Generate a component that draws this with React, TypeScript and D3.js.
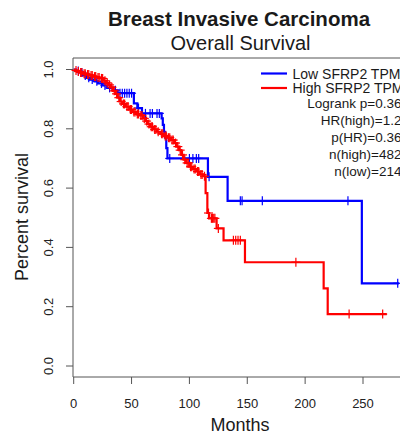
import React from "react";
import * as d3 from "d3";

const xTicks = [0, 50, 100, 150, 200, 250];
const yTicks = [0, 0.2, 0.4, 0.6, 0.8, 1.0];

// Low SFRP2 TPM (blue): [months, survival after drop]
const lowSteps: [number, number][] = [
  [0, 1], [2, 0.995], [5, 0.99], [8, 0.98], [11, 0.972], [14, 0.966], [18, 0.96], [21, 0.953],
  [25, 0.946], [29, 0.938], [34, 0.93], [38, 0.92], [52, 0.886], [55, 0.87], [59, 0.852],
  [76, 0.835], [77, 0.813], [78, 0.79], [79, 0.77], [80, 0.735], [81, 0.7], [116, 0.638],
  [133, 0.557], [249, 0.279], [281, 0.279],
];
const lowCensor = [4, 7, 10, 13, 16, 20, 24, 27, 31, 36, 40, 42, 44, 46, 48, 50, 56, 62, 66, 68, 72, 74,
  83, 100, 103, 106, 108, 117, 144, 145.5, 163, 237, 280];

// High SFRP2 TPM (red)
const highSteps: [number, number][] = [
  [0, 1], [1, 0.997], [3, 0.993], [5, 0.99], [8, 0.986], [11, 0.983], [14, 0.98], [17, 0.976],
  [20, 0.973], [23, 0.97], [26, 0.962], [28, 0.955], [30, 0.948], [32, 0.94], [34, 0.928],
  [36, 0.918], [38, 0.905], [40, 0.892], [42, 0.884], [45, 0.875], [48, 0.865], [51, 0.857],
  [54, 0.85], [57, 0.845], [60, 0.835], [62, 0.826], [64, 0.816], [66, 0.807], [69, 0.798],
  [72, 0.79], [75, 0.783], [78, 0.776], [81, 0.77], [84, 0.762], [87, 0.752], [89, 0.74],
  [91, 0.728], [93, 0.712], [95, 0.696], [97, 0.685], [100, 0.672], [103, 0.664], [106, 0.656],
  [109, 0.646], [112, 0.64], [114, 0.583], [115.5, 0.516], [117, 0.498], [123.5, 0.464],
  [129.5, 0.424], [148, 0.35], [216, 0.262], [219.5, 0.175], [270.5, 0.175],
];
const highCensor = [2, 4, 6, 7, 9, 10, 12, 13, 15, 16, 18, 19, 21, 22, 24, 25, 27, 29, 31, 33, 35, 37, 39,
  41, 43, 44, 46, 47, 49, 50, 52, 53, 55, 56, 58, 59, 61, 63, 65, 67, 68, 70, 71, 73, 76, 77, 79, 80,
  82, 83, 85, 86, 88, 90, 92, 94, 96, 98, 99, 101, 102, 104, 105, 107, 108, 110, 111, 113, 116.5,
  119, 120, 121, 122, 125, 138, 140, 142, 144, 192, 238, 267];

const legendItems = [
  { label: "Low SFRP2 TPM", color: "#0000FF" },
  { label: "High SFRP2 TPM", color: "#FF0000" },
];
const statLines = ["Logrank p=0.36", "HR(high)=1.2", "p(HR)=0.36", "n(high)=482", "n(low)=214"];

const W = 400;
const H = 435;
const FONT = "Liberation Sans, Arial, sans-serif";

const x = d3.scaleLinear().domain([0, 250]).range([73.7, 363]);
const y = d3.scaleLinear().domain([0, 1]).range([366, 69.5]);

function survAt(steps: [number, number][], t: number) {
  let s = 1;
  for (const [tt, v] of steps) {
    if (tt <= t) s = v;
    else break;
  }
  return s;
}

const line = d3
  .line<[number, number]>()
  .x((d) => x(d[0]))
  .y((d) => y(d[1]))
  .curve(d3.curveStepAfter);

function Curve({ steps, censor, color }: { steps: [number, number][]; censor: number[]; color: string }) {
  return (
    <g>
      <path d={line(steps) || ""} fill="none" stroke={color} strokeWidth={2.2} />
      {censor.map((t, i) => {
        const cx = x(t);
        const cy = y(survAt(steps, t));
        return (
          <g key={i} stroke={color} strokeWidth={1.2}>
            <line x1={cx} x2={cx} y1={cy - 4.5} y2={cy + 4.5} />
            <line x1={cx - 4.5} x2={cx + 4.5} y1={cy} y2={cy} />
          </g>
        );
      })}
    </g>
  );
}

export default function App() {
  const left = 73;
  const top = 58;
  const bottom = 377;
  const axisColor = "#555";
  return (
    <svg
      width={W}
      height={H}
      style={{ position: "absolute", left: 0, top: 0, background: "#fff" }}
      fontFamily={FONT}
    >
      <text x={239} y={26} textAnchor="middle" fontSize={20.5} fontWeight="bold" fill="#1a1a1a">
        Breast Invasive Carcinoma
      </text>
      <text x={240.5} y={50} textAnchor="middle" fontSize={20} fill="#1a1a1a">
        Overall Survival
      </text>

      {/* box */}
      <line x1={left} x2={W} y1={top} y2={top} stroke={axisColor} strokeWidth={1} />
      <line x1={left} x2={left} y1={top} y2={bottom} stroke={axisColor} strokeWidth={1} />
      <line x1={left} x2={W} y1={bottom} y2={bottom} stroke={axisColor} strokeWidth={1} />

      {/* x ticks */}
      {xTicks.map((t) => (
        <g key={t}>
          <line x1={x(t)} x2={x(t)} y1={bottom} y2={bottom + 7} stroke={axisColor} />
          <text x={x(t)} y={408} textAnchor="middle" fontSize={13} fill="#222">
            {t}
          </text>
        </g>
      ))}
      {/* y ticks */}
      {yTicks.map((v) => (
        <g key={v}>
          <line x1={left - 7} x2={left} y1={y(v)} y2={y(v)} stroke={axisColor} />
          <text
            transform={`translate(${53.3},${y(v)}) rotate(-90)`}
            textAnchor="middle"
            fontSize={13}
            fill="#222"
          >
            {d3.format(".1f")(v)}
          </text>
        </g>
      ))}

      <text x={240} y={431} textAnchor="middle" fontSize={18} fill="#1a1a1a">
        Months
      </text>
      <text transform={`translate(28,217) rotate(-90)`} textAnchor="middle" fontSize={18} fill="#1a1a1a">
        Percent survival
      </text>

      <Curve steps={lowSteps} censor={lowCensor} color="#0000FF" />
      <Curve steps={highSteps} censor={highCensor} color="#FF0000" />

      {/* legend */}
      {legendItems.map((it, i) => (
        <g key={it.label}>
          <line x1={261} x2={287} y1={73.5 + i * 14.5} y2={73.5 + i * 14.5} stroke={it.color} strokeWidth={2.2} />
          <text x={292.5} y={78.5 + i * 14.5} fontSize={14} fill="#1a1a1a">
            {it.label}
          </text>
        </g>
      ))}
      {statLines.map((s, i) => (
        <text key={s} x={401.5} y={108 + i * 16.9} textAnchor="end" fontSize={13.5} fill="#1a1a1a">
          {s}
        </text>
      ))}
    </svg>
  );
}
